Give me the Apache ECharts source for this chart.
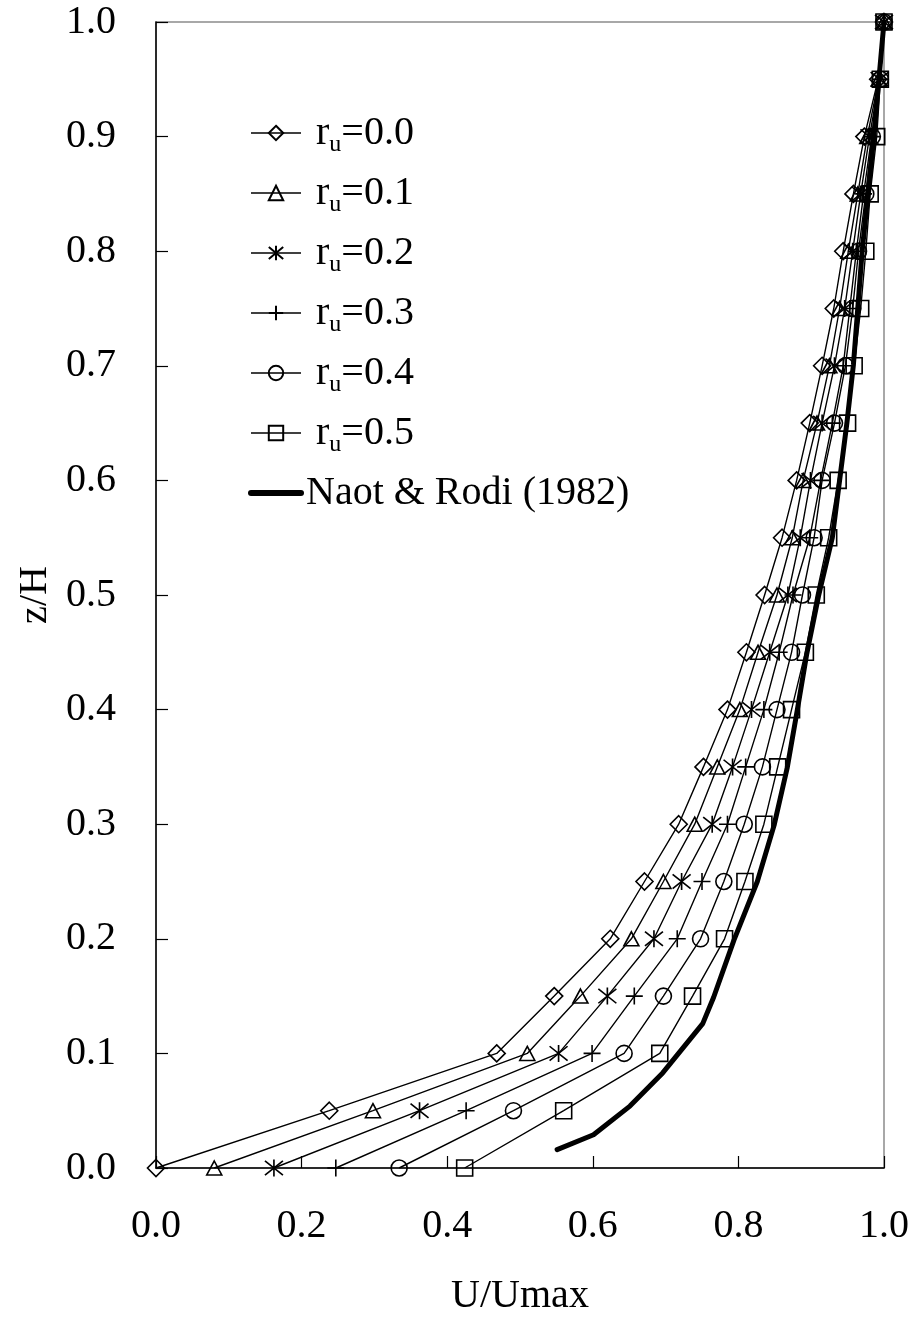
<!DOCTYPE html>
<html>
<head>
<meta charset="utf-8">
<script src="https://cdn.jsdelivr.net/npm/echarts@6/dist/echarts.min.js"></script>
<style>
  html, body { margin: 0; padding: 0; background: #fff; }
  #chart { width: 911px; height: 1317px; }
</style>
</head>
<body>
<div id="chart"></div>
<script>
// Relative depth z/H at which every velocity profile is sampled
const zLevels = [0.00, 0.05, 0.10, 0.15, 0.20, 0.25, 0.30, 0.35, 0.40, 0.45, 0.50,
                 0.55, 0.60, 0.65, 0.70, 0.75, 0.80, 0.85, 0.90, 0.95, 1.00];

// U/Umax profiles for each roughness ratio r_u
const u00 = [0.000, 0.238, 0.468, 0.547, 0.624, 0.671, 0.718, 0.752, 0.785, 0.811, 0.836,
             0.860, 0.880, 0.898, 0.915, 0.931, 0.944, 0.958, 0.973, 0.992, 1.000];
const u01 = [0.080, 0.298, 0.510, 0.583, 0.653, 0.697, 0.740, 0.771, 0.802, 0.827, 0.853,
             0.874, 0.889, 0.908, 0.925, 0.939, 0.951, 0.964, 0.977, 0.993, 1.000];
const u02 = [0.162, 0.362, 0.553, 0.620, 0.684, 0.722, 0.764, 0.792, 0.818, 0.843, 0.868,
             0.885, 0.899, 0.915, 0.932, 0.946, 0.957, 0.968, 0.980, 0.994, 1.000];
const u03 = [0.247, 0.426, 0.599, 0.657, 0.716, 0.750, 0.785, 0.810, 0.835, 0.856, 0.875,
             0.898, 0.913, 0.929, 0.944, 0.953, 0.962, 0.972, 0.983, 0.995, 1.000];
const u04 = [0.334, 0.491, 0.643, 0.697, 0.748, 0.780, 0.808, 0.833, 0.853, 0.873, 0.888,
             0.904, 0.915, 0.932, 0.947, 0.957, 0.965, 0.975, 0.984, 0.995, 1.000];
const u05 = [0.424, 0.560, 0.692, 0.737, 0.781, 0.809, 0.835, 0.854, 0.873, 0.892, 0.907,
             0.924, 0.937, 0.950, 0.959, 0.968, 0.975, 0.981, 0.990, 0.995, 1.000];

// Reference profile of Naot & Rodi (1982)
const naotU = [0.551, 0.601, 0.651, 0.696, 0.751, 0.766, 0.794, 0.826, 0.849, 0.867, 0.881,
               0.894, 0.910, 0.929, 0.939, 0.949, 0.958, 0.970, 0.986, 1.000];
const naotZ = [0.016, 0.029, 0.054, 0.083, 0.126, 0.149, 0.199, 0.250, 0.299, 0.349, 0.400,
               0.449, 0.499, 0.550, 0.600, 0.650, 0.701, 0.800, 0.900, 1.000];

const seriesNames = ['r_u=0.0', 'r_u=0.1', 'r_u=0.2', 'r_u=0.3', 'r_u=0.4', 'r_u=0.5'];
const naotName = 'Naot & Rodi (1982)';
const xTicks = { min: 0, max: 1, step: 0.2 };
const yTicks = { min: 0, max: 1, step: 0.1 };

const profiles = [u00, u01, u02, u03, u04, u05];
const markers = [
  { symbol: 'diamond', size: 17 },
  { symbol: 'triangle', size: [15, 14] },
  { symbol: 'path://M5 0 L5 10 M0.6 0.8 L9.4 9.2 M0.6 9.2 L9.4 0.8', size: [18, 17] },
  { symbol: 'path://M5 0 L5 10 M0 5 L10 5', size: [17, 17] },
  { symbol: 'circle', size: 16 },
  { symbol: 'rect', size: 16 }
];

const FONT = "'Liberation Serif', 'Times New Roman', serif";

const series = profiles.map((u, k) => ({
  name: seriesNames[k],
  type: 'line',
  data: zLevels.map((z, i) => [u[i], z]),
  symbol: markers[k].symbol,
  symbolSize: markers[k].size,
  showAllSymbol: true,
  smooth: false,
  lineStyle: { color: '#000', width: 1.4 },
  itemStyle: { color: 'transparent', borderColor: '#000', borderWidth: 1.6 },
  emphasis: { disabled: true },
  z: 3
}));

series.push({
  name: naotName,
  type: 'line',
  data: naotU.map((u, i) => [u, naotZ[i]]),
  symbol: 'none',
  smooth: false,
  lineStyle: { color: '#000', width: 5, cap: 'round', join: 'round' },
  itemStyle: { color: 'transparent', borderWidth: 0 },
  emphasis: { disabled: true },
  z: 2
});

const legendData = seriesNames.map(n => ({ name: n, lineStyle: { width: 1.4 } }))
  .concat([{ name: naotName, lineStyle: { width: 6 } }]);

const chart = echarts.init(document.getElementById('chart'), null, { renderer: 'canvas' });

chart.setOption({
  animation: false,
  backgroundColor: '#fff',
  grid: {
    left: 156, right: 27, top: 22, bottom: 149,
    outerBoundsMode: 'none',
    containLabel: false,
    show: true, borderColor: '#8c8c8c', borderWidth: 1.5,
    backgroundColor: 'transparent'
  },
  legend: {
    orient: 'vertical',
    left: 248,
    top: 109,
    itemWidth: 50,
    itemHeight: 18,
    itemGap: 12,
    padding: 0,
    selectedMode: false,
    data: legendData,
    formatter: name => name.indexOf('r_u') === 0 ? ' r{sub|u}' + name.slice(3) : name,
    textStyle: {
      fontFamily: FONT, fontSize: 40, color: '#000', lineHeight: 48,
      rich: {
        sub: { fontFamily: FONT, fontSize: 24, color: '#000', verticalAlign: 'bottom' }
      }
    }
  },
  xAxis: {
    type: 'value',
    min: xTicks.min, max: xTicks.max, interval: xTicks.step,
    name: 'U/Umax',
    nameLocation: 'middle',
    nameGap: 108,
    nameTextStyle: { fontFamily: FONT, fontSize: 40, color: '#000' },
    axisLine: { show: true, onZero: false, lineStyle: { color: '#000', width: 1.5 } },
    axisTick: { show: true, inside: true, length: 12, lineStyle: { color: '#000', width: 1.2 } },
    axisLabel: {
      margin: 38, fontFamily: FONT, fontSize: 40, color: '#000',
      formatter: v => v.toFixed(1)
    },
    splitLine: { show: false }
  },
  yAxis: {
    type: 'value',
    min: yTicks.min, max: yTicks.max, interval: yTicks.step,
    name: 'z/H',
    nameLocation: 'middle',
    nameGap: 100,
    nameTextStyle: { fontFamily: FONT, fontSize: 40, color: '#000' },
    axisLine: { show: true, onZero: false, lineStyle: { color: '#000', width: 1.5 } },
    axisTick: { show: true, inside: true, length: 12, lineStyle: { color: '#000', width: 1.2 } },
    axisLabel: {
      margin: 40, fontFamily: FONT, fontSize: 40, color: '#000',
      formatter: v => v.toFixed(1)
    },
    splitLine: { show: false }
  },
  series: series
});
</script>
</body>
</html>
